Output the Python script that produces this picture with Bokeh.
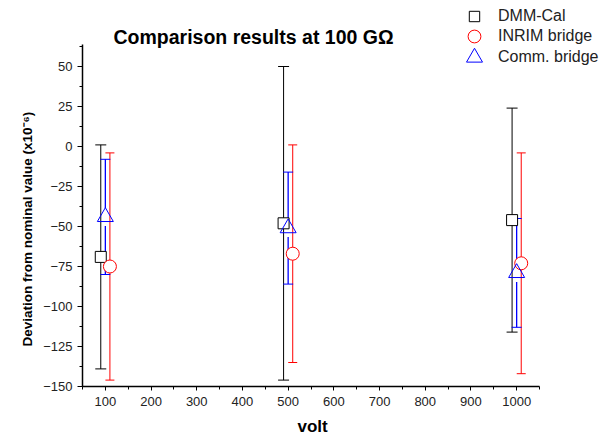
from bokeh.plotting import figure
from bokeh.models import (Range1d, SingleIntervalTicker, Legend, LegendItem,
                          ColumnDataSource, TeeHead, Whisker, Label)
from bokeh.embed import file_html
from bokeh.resources import INLINE

# ---- data ----
dmm_x = [90, 490, 990]
dmm_y = [-69, -48, -46]
dmm_err = [70, 98, 70]

inrim_x = [110, 510, 1010]
inrim_y = [-75, -67, -73]
inrim_err = [71, 68, 69]

comm_x = [100, 500, 1000]
comm_y = [-44, -51, -79]
comm_err = [36, 35, 34]

series_names = ["DMM-Cal", "INRIM bridge", "Comm. bridge"]
title_text = "Comparison results at 100 G\u03a9"
x_label = "volt"
y_label = "Deviation from nominal value (x10\u207b\u2076)"

FONT = "Liberation Sans"
NBSP = "\u00a0"

# axis extents shown in the reference
X_MIN, X_MAX = 50, 1050
Y_MIN, Y_MAX = -150, 64

# frame extended to the top/right so the legend (outside the axes) is not clipped
W, H = 613, 439
LEFT, BOTTOM = 82, 53
PX_X = 457 / (X_MAX - X_MIN)      # px per volt
PX_Y = 40 / 25                     # px per unit
x_end = X_MIN + (W - LEFT) / PX_X
y_end = Y_MIN + (H - BOTTOM) / PX_Y
FRAME_H = H - BOTTOM

p = figure(width=W, height=H, output_backend="svg", toolbar_location=None,
           x_range=Range1d(X_MIN, x_end), y_range=Range1d(Y_MIN, y_end),
           min_border_left=LEFT, min_border_right=0, min_border_top=0,
           min_border_bottom=BOTTOM)
p.outline_line_color = None
p.grid.visible = False
p.background_fill_color = "white"
p.border_fill_color = "white"

# axes
p.xaxis.ticker = SingleIntervalTicker(interval=100, num_minor_ticks=2)
p.yaxis.ticker = SingleIntervalTicker(interval=25, num_minor_ticks=2)
p.xaxis.bounds = (X_MIN, X_MAX)
p.yaxis.bounds = (Y_MIN, Y_MAX)
for ax in (p.xaxis, p.yaxis):
    ax.axis_line_width = 1.5
    ax.axis_line_color = "black"
    ax.major_tick_line_color = "black"
    ax.minor_tick_line_color = "black"
    ax.major_tick_in = 0
    ax.minor_tick_in = 0
    ax.major_label_text_font = FONT
    ax.major_label_text_font_size = "13px"
    ax.major_label_text_color = "#222222"
    ax.axis_label_text_font = FONT
    ax.axis_label_text_font_style = "bold"
    ax.axis_label_text_color = "black"
p.xaxis.major_tick_out = 4
p.xaxis.minor_tick_out = 3
p.xaxis.major_label_standoff = 6
# trailing no-break spaces re-centre the label over the visible axis span
p.xaxis.axis_label = x_label + NBSP * 15
p.xaxis.axis_label_text_font_size = "17px"
p.xaxis.axis_label_standoff = 8
p.yaxis.major_tick_out = 5
p.yaxis.minor_tick_out = 3
p.yaxis.major_label_standoff = 5
p.yaxis.axis_label = y_label + NBSP * 19
p.yaxis.axis_label_text_font_size = "13.5px"
p.yaxis.axis_label_standoff = 5

# title as a label placed above the axes
p.add_layout(Label(x=31, y=FRAME_H - 36, x_units="screen", y_units="screen",
                   text=title_text, text_font=FONT, text_font_size="19.5px",
                   text_font_style="bold", text_color="black",
                   text_baseline="alphabetic", text_align="left"))


def add_errorbars(xs, ys, errs, color, cap, gap_px=0):
    up = [y + e for y, e in zip(ys, errs)]
    lo = [y - e for y, e in zip(ys, errs)]
    src = ColumnDataSource(dict(x=xs, upper=up, lower=lo))
    w = Whisker(base="x", upper="upper", lower="lower", source=src,
                dimension="height", line_color=color, line_width=1,
                line_alpha=0 if gap_px else 1,
                upper_head=TeeHead(size=cap, line_color=color, line_width=1),
                lower_head=TeeHead(size=cap, line_color=color, line_width=1))
    p.add_layout(w)
    if gap_px:
        g = gap_px / PX_Y
        p.segment(x0=xs, y0=up, x1=xs, y1=[y + g for y in ys],
                  line_color=color, line_width=1.3)
        p.segment(x0=xs, y0=lo, x1=xs, y1=[y - g for y in ys],
                  line_color=color, line_width=1.3)


add_errorbars(dmm_x, dmm_y, dmm_err, "black", 11)
add_errorbars(inrim_x, inrim_y, inrim_err, "red", 9)
add_errorbars(comm_x, comm_y, comm_err, "blue", 10, gap_px=9)

r_dmm = p.scatter(dmm_x, dmm_y, marker="square", size=11, line_color="black",
                  fill_color="white", line_width=1)
r_inrim = p.scatter(inrim_x, inrim_y, marker="circle", size=13, line_color="red",
                    fill_color="white", line_width=1)
r_comm = p.scatter(comm_x, comm_y, marker="triangle", size=16, line_color="blue",
                   fill_color="white", fill_alpha=0, line_width=1)

# one legend per entry (each with its own glyph box, so marker sizes differ)
GLYPH_CX = 474      # legend marker centre, px from left
TEXT_X = 498        # legend text start, px from left
rows = [(series_names[0], r_dmm, 16, 26),
        (series_names[1], r_inrim, 36, 32),
        (series_names[2], r_comm, 57, 40)]
for name, rend, cy, box in rows:
    lg = Legend(items=[LegendItem(label=name, renderers=[rend])],
                location=(GLYPH_CX - box / 2 - LEFT, FRAME_H - cy - box / 2),
                orientation="vertical",
                glyph_width=box, glyph_height=box, label_height=16, spacing=0,
                label_standoff=int(TEXT_X - GLYPH_CX - box / 2),
                padding=0, margin=0,
                border_line_color=None, background_fill_alpha=0,
                label_text_font=FONT, label_text_font_size="16px",
                label_text_color="#222222")
    p.add_layout(lg)

open("out.html", "w").write(file_html(p, INLINE))
